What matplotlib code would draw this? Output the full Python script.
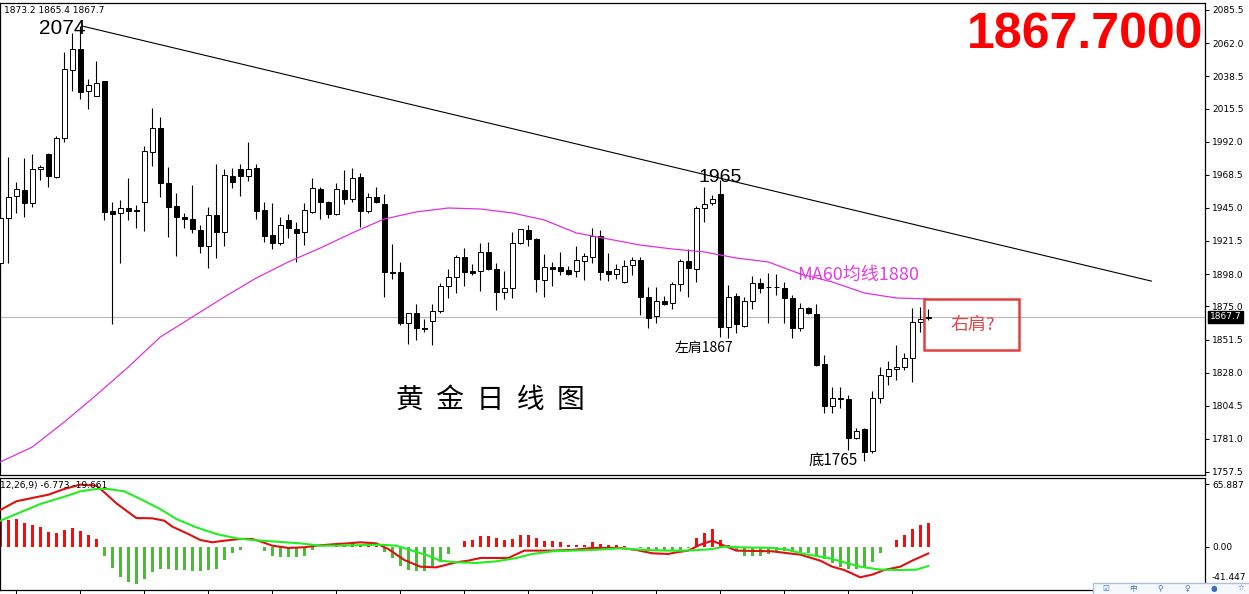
import matplotlib
matplotlib.use('Agg')
import matplotlib.pyplot as plt
from matplotlib.patches import Rectangle

# daily gold candles
opens = [
    1905.9, 1937.8, 1953.4, 1957.7, 1948.5, 1972.6, 1983.3, 1966.9, 1994.6, 2042.9,
    2057.8, 2028.0, 2024.4, 2035.1, 1942.8, 1941.4, 1944.9, 1943.5, 1949.2, 1984.7,
    2001.7, 1962.7, 1946.3, 1938.5, 1937.1, 1929.3, 1917.9, 1939.9, 1927.9, 1967.6,
    1972.6, 1967.6, 1973.3, 1943.5, 1925.7, 1920.1, 1936.4, 1930.0, 1927.9, 1942.1,
    1958.4, 1949.2, 1940.7, 1957.7, 1951.3, 1966.9, 1942.8, 1952.7, 1947.8, 1899.5,
    1899.5, 1863.3, 1870.4, 1859.5, 1864.7, 1871.8, 1889.5, 1895.9, 1910.1, 1900.2,
    1900.2, 1913.7, 1901.6, 1885.3, 1888.1, 1920.1, 1929.3, 1922.9, 1893.8, 1903.0,
    1903.0, 1900.9, 1900.2, 1907.3, 1910.1, 1925.0, 1900.2, 1898.1, 1892.4, 1904.4,
    1908.0, 1881.7, 1868.2, 1878.9, 1877.5, 1891.0, 1907.3, 1901.6, 1944.9, 1948.5,
    1954.9, 1860.4, 1882.4, 1861.1, 1878.9, 1891.7, 1888.8, 1888.8, 1888.1, 1881.0,
    1859.7, 1873.9, 1869.7, 1834.2, 1804.3, 1810.0, 1809.3, 1781.6, 1788.0, 1772.4,
    1810.0, 1825.6, 1830.6, 1832.0, 1838.4, 1864.0, 1866.5]
highs = [
    1944.9, 1981.1, 1963.4, 1980.4, 1983.3, 1975.4, 1984.0, 1996.0, 2055.7, 2069.2,
    2074.0, 2036.5, 2049.3, 2035.1, 1949.2, 1950.6, 1966.2, 1947.0, 1988.9, 2015.9,
    2009.5, 1974.0, 1955.6, 1941.4, 1961.2, 1932.8, 1945.6, 1976.2, 1972.6, 1973.3,
    1976.2, 1991.8, 1976.2, 1949.2, 1948.5, 1938.5, 1940.7, 1935.0, 1948.5, 1966.2,
    1959.8, 1949.9, 1962.7, 1971.9, 1973.3, 1969.8, 1955.6, 1959.8, 1954.9, 1919.4,
    1906.6, 1870.4, 1876.8, 1866.1, 1876.8, 1891.7, 1901.6, 1911.5, 1916.5, 1905.2,
    1920.1, 1920.8, 1905.9, 1900.2, 1927.9, 1930.0, 1932.8, 1923.6, 1912.3, 1906.6,
    1913.7, 1903.7, 1917.9, 1913.0, 1930.7, 1929.3, 1913.0, 1905.2, 1908.0, 1910.1,
    1910.1, 1888.8, 1888.8, 1882.4, 1892.4, 1908.7, 1915.8, 1946.0, 1959.8, 1954.1,
    1965.0, 1890.2, 1884.6, 1881.7, 1896.6, 1895.2, 1898.8, 1898.1, 1892.4, 1883.1,
    1877.5, 1874.6, 1876.8, 1840.5, 1817.8, 1817.8, 1812.1, 1788.7, 1788.7, 1815.0,
    1832.0, 1836.3, 1847.6, 1842.0, 1873.9, 1874.6, 1873.2]
lows = [
    1903.0, 1905.9, 1941.4, 1938.5, 1945.6, 1964.8, 1959.8, 1966.2, 1991.8, 2028.0,
    2022.3, 2015.2, 2024.4, 1936.4, 1862.6, 1905.9, 1936.4, 1930.7, 1928.6, 1974.7,
    1952.7, 1924.3, 1910.8, 1930.7, 1927.2, 1913.0, 1902.3, 1909.4, 1917.9, 1959.1,
    1953.4, 1964.1, 1937.1, 1920.8, 1915.8, 1918.6, 1923.6, 1906.6, 1918.6, 1941.4,
    1937.1, 1937.8, 1939.9, 1947.8, 1949.2, 1931.4, 1941.4, 1948.5, 1881.7, 1894.5,
    1862.0, 1848.4, 1851.2, 1856.9, 1847.6, 1870.4, 1881.0, 1884.6, 1889.5, 1897.3,
    1886.0, 1900.9, 1872.5, 1880.3, 1881.0, 1919.4, 1917.9, 1885.3, 1881.7, 1889.5,
    1897.3, 1897.3, 1895.9, 1893.8, 1905.9, 1893.8, 1893.1, 1894.5, 1891.5, 1897.3,
    1868.9, 1859.7, 1863.3, 1876.0, 1873.2, 1886.0, 1881.7, 1892.4, 1935.0, 1947.0,
    1853.3, 1852.6, 1856.2, 1860.4, 1873.2, 1884.6, 1863.3, 1883.1, 1863.3, 1852.6,
    1857.6, 1869.7, 1832.7, 1799.4, 1799.4, 1802.9, 1773.1, 1781.0, 1765.0, 1771.0,
    1806.5, 1819.2, 1822.8, 1829.9, 1821.4, 1856.9, 1865.4]
closes = [
    1937.8, 1952.7, 1958.4, 1948.5, 1972.6, 1974.0, 1967.6, 1994.6, 2043.6, 2057.8,
    2027.3, 2032.2, 2033.7, 1942.1, 1940.7, 1944.9, 1942.8, 1943.0, 1985.4, 2001.7,
    1962.7, 1945.6, 1938.5, 1937.1, 1930.0, 1917.9, 1939.9, 1927.9, 1968.3, 1963.4,
    1967.6, 1972.6, 1942.8, 1925.0, 1920.1, 1932.8, 1930.7, 1927.2, 1943.5, 1959.1,
    1949.2, 1940.7, 1958.4, 1951.3, 1966.2, 1942.8, 1952.7, 1949.2, 1899.5, 1899.0,
    1863.3, 1870.4, 1859.7, 1859.0, 1871.8, 1889.5, 1895.9, 1910.1, 1899.5, 1898.8,
    1913.7, 1901.6, 1885.3, 1888.1, 1920.1, 1930.0, 1922.9, 1894.5, 1903.0, 1901.6,
    1900.2, 1898.1, 1908.0, 1910.8, 1925.0, 1899.5, 1898.1, 1901.6, 1903.7, 1908.0,
    1881.7, 1866.8, 1878.9, 1876.8, 1891.0, 1907.3, 1902.3, 1944.9, 1947.8, 1951.3,
    1860.4, 1881.7, 1862.6, 1878.9, 1891.7, 1888.1, 1888.5, 1888.5, 1881.0, 1859.7,
    1873.9, 1870.4, 1833.4, 1804.3, 1810.0, 1809.5, 1781.6, 1786.6, 1771.7, 1810.0,
    1826.3, 1830.6, 1832.0, 1838.4, 1864.0, 1866.1, 1867.7]

# MA60 (magenta) sampled every 4 bars
ma_idx = [0, 4, 8, 12, 16, 20, 24, 28, 32, 36, 40, 44, 48, 52, 56, 60, 64, 68, 72, 76,
          80, 84, 88, 92, 96, 100, 104, 108, 112, 116]
ma_vals = [1764.6, 1775.2, 1793.0, 1812.1, 1832.0, 1853.3, 1867.5, 1881.7, 1895.2, 1906.6,
           1916.5, 1927.2, 1937.1, 1942.1, 1944.9, 1944.2, 1941.4, 1936.4, 1927.2, 1922.9,
           1918.6, 1915.8, 1913.7, 1909.4, 1906.6, 1898.1, 1892.4, 1884.6, 1881.0, 1880.3]

# trend line from the 2074 top
trend_idx = [10.3, 143.9]
trend_px = [2074.0, 1893.0]

# MACD(12,26,9)
macd_idx = [0, 2, 4, 6, 8, 10, 12, 13, 14.5, 17, 19, 20.5, 21.5, 23.5, 25, 26.5,
            28, 30, 31.5, 32.5, 34, 36, 38, 39.5, 42, 43.5, 45, 47, 48.5, 50.5, 52.5, 54.5,
            57, 58.5, 60, 63.5, 65.5, 69, 71.5, 74, 77.5, 79.5, 81.5, 83.5, 84.5, 86, 87.5, 89,
            90.5, 92, 96.5, 98.5, 100, 102.5, 104, 105.5, 107.5, 109, 110.5, 112.5, 114, 116]
macd_vals = [38.7, 47.8, 51.3, 54.7, 60.7, 65.2, 64.2, 57.2, 45.7, 30.3, 30.0, 27.5, 21.3, 13.6, 7.3, 4.9,
             6.6, 8.4, 8.4, 5.9, 1.4, -1.0, -0.3, 1.4, 3.1, 3.8, 4.9, 3.8, -2.1, -13.6, -20.6, -21.3,
             -16.0, -14.3, -11.5, -11.5, -3.8, -3.8, -3.1, -1.0, -1.0, -3.1, -6.6, -7.3, -5.6, -3.8, 2.4, 6.6,
             1.4, -3.8, -4.5, -6.6, -8.0, -14.3, -20.6, -24.1, -31.7, -28.9, -24.1, -20.6, -14.3, -6.8]
sig_idx = [0, 2, 5, 8, 10, 12, 13.5, 15.5, 17.5, 20, 22, 24.5, 27, 29.5, 31.5, 34.5, 37.5, 40,
           42.5, 47.5, 49.5, 51.5, 53.5, 55, 57, 59.5, 62, 64.5, 66.5, 69, 71.5, 74, 77.5,
           80.5, 83.5, 85.5, 87.5, 89, 90.5, 92.5, 96.5, 98.5, 100.5, 103.5, 105.5, 107.5,
           110, 112.5, 114.5, 116]
sig_vals = [27.5, 34.5, 45.0, 52.6, 58.2, 60.7, 60.7, 58.2, 50.2, 39.7, 29.3, 20.6, 13.6, 9.1, 7.3, 5.6, 3.8, 1.4,
            1.4, 2.4, 1.4, -3.8, -9.1, -14.3, -16.0, -16.7, -15.0, -11.5, -7.3, -4.5, -3.8, -3.1, -1.4,
            -3.1, -3.8, -3.8, -3.1, -2.1, 0.3, -0.3, -1.0, -3.1, -7.3, -11.5, -16.0, -20.6,
            -23.7, -24.1, -23.7, -20.0]
hist = [
    27.5, 28.2, 29.3, 25.1, 23.4, 20.6, 16.0, 14.3, 17.8, 19.9,
    17.1, 12.9, 8.4, -9.1, -22.3, -31.0, -37.0, -38.7, -33.5, -26.5,
    -23.4, -23.0, -23.7, -24.1, -24.8, -25.5, -24.1, -23.0, -13.6, -6.6,
    -3.1, 0.5, -0.5, -3.8, -9.1, -10.1, -10.8, -10.8, -9.1, -2.8,
    -0.5, 0.3, 1.8, 2.2, 2.8, 2.4, 2.2, 1.2, -5.6, -11.5,
    -19.5, -24.1, -24.8, -25.5, -19.5, -16.0, -7.3, 0.3, 5.9, 7.3,
    11.9, 11.5, 9.1, 7.3, 8.4, 12.6, 12.9, 9.1, 6.6, 5.9,
    4.9, 2.4, 2.4, 2.4, 4.9, 3.1, 2.1, 1.7, 0.7, 0.3,
    -0.8, -4.5, -4.5, -4.5, -4.5, -4.5, -0.8, 9.1, 14.6, 18.8,
    7.3, 2.4, -3.0, -9.1, -9.1, -9.1, -7.3, -5.6, -4.5, -4.9,
    -5.6, -6.6, -9.1, -12.5, -17.1, -21.3, -23.0, -23.0, -21.3, -16.0,
    -6.6, 0.3, 7.7, 12.9, 18.8, 23.4, 25.1]

price_ticks = [2085.5, 2062.0, 2038.5, 2015.5, 1992.0, 1968.5, 1945.0, 1921.5, 1898.0,
               1875.0, 1851.5, 1828.0, 1804.5, 1781.0, 1757.5]
macd_ticks = [65.887, 0.0, -41.447]
macd_tick_labels = ['65.887', '0.00', '-41.447']
toolbar_icons = ['☑', '中', '⚲', '♀', '●', '☆']

CJK = ['Noto Sans CJK SC', 'DejaVu Sans']
W, H = 1249, 594

fig = plt.figure(figsize=(W / 100, H / 100), dpi=100, facecolor='white')
ax = fig.add_axes([0, 1 - 474.5 / H, 1205 / W, (474.5 - 2.5) / H])
ax2 = fig.add_axes([0, 1 - 590 / H, 1205 / W, (590 - 477.5) / H])

idx = list(range(len(opens)))

# candles
ax.vlines(idx, lows, highs, color='black', lw=0.8, zorder=2)
body_bottom = [min(o, c) for o, c in zip(opens, closes)]
body_h = [max(abs(c - o), 0.4) for o, c in zip(opens, closes)]
body_col = ['white' if c >= o else 'black' for o, c in zip(opens, closes)]
ax.bar(idx, body_h, bottom=body_bottom, width=0.6, color=body_col,
       edgecolor='black', linewidth=0.7, zorder=3)

ax.plot(ma_idx, ma_vals, color='#e030e0', lw=0.9, zorder=4)
ax.plot(trend_idx, trend_px, color='black', lw=0.8, zorder=4)
ax.axhline(closes[-1], color='#b8b8b8', lw=0.8, zorder=1)

ax.set_xlim(-0.04, 150.6)
ax.set_ylim(1755.7, 2090.8)
ax.set_xticks([])
ax.yaxis.tick_right()
ax.set_yticks(price_ticks)
ax.set_yticklabels([f'{v:.1f}' for v in price_ticks])
ax.tick_params(axis='y', length=3, width=0.7, labelsize=6.5, pad=2)
for s in ax.spines.values():
    s.set_linewidth(0.9)

ax.text(1.004, closes[-1], f'{closes[-1]:.1f}', transform=ax.get_yaxis_transform(),
        ha='left', va='center', color='white', fontsize=6.5, clip_on=False,
        bbox=dict(boxstyle='square,pad=0.15', fc='black', ec='black'))

ax.text(0.003, 0.983, f'{highs[-1]:.1f} {lows[-1]:.1f} {closes[-1]:.1f}',
        transform=ax.transAxes, fontsize=6.5, va='center', ha='left')

# annotations
ax.text(7.7, 2072.6, '2074', fontsize=15, family='Liberation Sans', ha='center', va='center')
ax.text(90, 1966.8, '1965', fontsize=14, family='Liberation Sans', ha='center', va='center')
ax.text(88, 1845.5, '左肩1867', fontsize=10, family=CJK, ha='center', va='center')
ax.text(104.1, 1766.0, '底1765', fontsize=11, family=CJK, ha='center', va='center')
ax.text(99.6, 1897.4, 'MA60均线1880', fontsize=13, family=CJK, color='#e040e0',
        ha='left', va='center')
ax.text(49.5, 1808.6, '黄  金  日  线  图', fontsize=20, family=CJK, ha='left', va='center')
ax.add_patch(Rectangle((115.5, 1844.1), 11.8, 36.2, fill=False, ec='#e04040', lw=1.8, zorder=5))
ax.text(121.5, 1861.9, '右肩?', fontsize=13, family=CJK, color='#e04848', ha='center', va='center')

fig.text(1203 / W, 1 - 35 / H, f'{closes[-1]:.4f}', ha='right', va='center', fontsize=36,
         weight='bold', color='#ff0000', family='Liberation Sans')

# MACD panel
hist_col = ['#ee1111' if v >= 0 else '#4cbb3c' for v in hist]
ax2.bar(idx, hist, width=0.38, color=hist_col, zorder=2)
ax2.plot(macd_idx, macd_vals, color='#dd1111', lw=1.5, zorder=3)
ax2.plot(sig_idx, sig_vals, color='#22ee22', lw=1.5, zorder=4)
ax2.set_xlim(-0.04, 150.6)
ax2.set_ylim(-45.0, 72.7)
ax2.yaxis.tick_right()
ax2.set_yticks(macd_ticks)
ax2.set_yticklabels(macd_tick_labels[:2] + [''])
ax2.set_xticks(list(range(2, 115, 8)))
ax2.set_xticklabels([])
ax2.tick_params(axis='y', length=3, width=0.7, labelsize=6.5, pad=2)
ax2.tick_params(axis='x', length=4, width=0.7, direction='out')
for s in ax2.spines.values():
    s.set_linewidth(0.9)
# bottom scale label, pushed up so the toolbar does not hide it
fig.text(1212 / W, 1 - 582 / H, macd_tick_labels[-1], fontsize=6.5, ha='left', va='bottom')
ax2.text(0.0, 0.93, '12,26,9) -6.773 -19.661', transform=ax2.transAxes,
         fontsize=6.5, va='center', ha='left')

# toolbar widget in the corner
fig.patches.append(Rectangle((1093 / W, -0.01), 160 / W, 1 - 583 / H + 0.01,
                             transform=fig.transFigure, fc='#f5f9fd', ec='#a9c1dd', lw=1, zorder=5))
for k, icon in enumerate(toolbar_icons):
    fig.text((1106 + 27 * k) / W, 0.002, icon, family=['DejaVu Sans', 'Noto Sans CJK SC'],
             fontsize=5.5, color='#3a6fc0', va='bottom', ha='center', zorder=6)

fig.savefig('out.png', dpi=100, facecolor='white')
